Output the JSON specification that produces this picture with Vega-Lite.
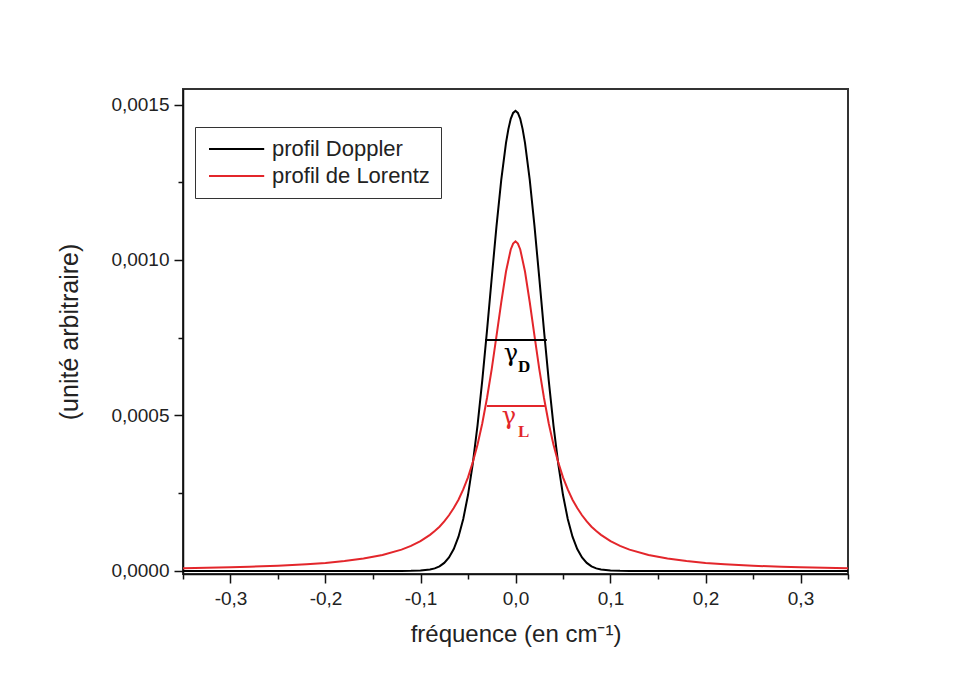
{
  "$schema": "https://vega.github.io/schema/vega-lite/v6.json",
  "width": 665,
  "height": 485,
  "autosize": {"type": "none"},
  "padding": {"left": 183, "top": 89, "right": 123, "bottom": 110},
  "background": "white",
  "config": {
    "view": {"stroke": "#333333", "strokeWidth": 2},
    "font": "Liberation Sans",
    "axis": {"labelFont": "Liberation Sans", "titleFont": "Liberation Sans", "labelColor": "#222222", "titleColor": "#222222", "titleFontWeight": "normal", "grid": false, "domainColor": "#111111", "tickColor": "#111111", "domainWidth": 1.5, "tickWidth": 1.5, "labelOverlap": false, "labelFlush": false, "labelBound": false},
    "legend": {"labelFont": "Liberation Sans"}
  },
  "datasets": {
    "curves": [
      {"x": -0.35, "y": 0, "s": "profil Doppler"},
      {"x": -0.2, "y": 0, "s": "profil Doppler"},
      {"x": -0.12, "y": 0, "s": "profil Doppler"},
      {"x": -0.11, "y": 0.0000002, "s": "profil Doppler"},
      {"x": -0.1, "y": 0.0000011, "s": "profil Doppler"},
      {"x": -0.09, "y": 0.0000043, "s": "profil Doppler"},
      {"x": -0.085, "y": 0.0000081, "s": "profil Doppler"},
      {"x": -0.08, "y": 0.0000146, "s": "profil Doppler"},
      {"x": -0.075, "y": 0.0000256, "s": "profil Doppler"},
      {"x": -0.07, "y": 0.0000432, "s": "profil Doppler"},
      {"x": -0.065, "y": 0.0000703, "s": "profil Doppler"},
      {"x": -0.06, "y": 0.000110, "s": "profil Doppler"},
      {"x": -0.055, "y": 0.000167, "s": "profil Doppler"},
      {"x": -0.05, "y": 0.000244, "s": "profil Doppler"},
      {"x": -0.045, "y": 0.000344, "s": "profil Doppler"},
      {"x": -0.04, "y": 0.000467, "s": "profil Doppler"},
      {"x": -0.035, "y": 0.000612, "s": "profil Doppler"},
      {"x": -0.03, "y": 0.000773, "s": "profil Doppler"},
      {"x": -0.025, "y": 0.000943, "s": "profil Doppler"},
      {"x": -0.02, "y": 0.001109, "s": "profil Doppler"},
      {"x": -0.015, "y": 0.001258, "s": "profil Doppler"},
      {"x": -0.01, "y": 0.001377, "s": "profil Doppler"},
      {"x": -0.0075, "y": 0.001421, "s": "profil Doppler"},
      {"x": -0.005, "y": 0.001454, "s": "profil Doppler"},
      {"x": -0.0025, "y": 0.001473, "s": "profil Doppler"},
      {"x": 0, "y": 0.00148, "s": "profil Doppler"},
      {"x": 0.0025, "y": 0.001473, "s": "profil Doppler"},
      {"x": 0.005, "y": 0.001454, "s": "profil Doppler"},
      {"x": 0.0075, "y": 0.001421, "s": "profil Doppler"},
      {"x": 0.01, "y": 0.001377, "s": "profil Doppler"},
      {"x": 0.015, "y": 0.001258, "s": "profil Doppler"},
      {"x": 0.02, "y": 0.001109, "s": "profil Doppler"},
      {"x": 0.025, "y": 0.000943, "s": "profil Doppler"},
      {"x": 0.03, "y": 0.000773, "s": "profil Doppler"},
      {"x": 0.035, "y": 0.000612, "s": "profil Doppler"},
      {"x": 0.04, "y": 0.000467, "s": "profil Doppler"},
      {"x": 0.045, "y": 0.000344, "s": "profil Doppler"},
      {"x": 0.05, "y": 0.000244, "s": "profil Doppler"},
      {"x": 0.055, "y": 0.000167, "s": "profil Doppler"},
      {"x": 0.06, "y": 0.000110, "s": "profil Doppler"},
      {"x": 0.065, "y": 0.0000703, "s": "profil Doppler"},
      {"x": 0.07, "y": 0.0000432, "s": "profil Doppler"},
      {"x": 0.075, "y": 0.0000256, "s": "profil Doppler"},
      {"x": 0.08, "y": 0.0000146, "s": "profil Doppler"},
      {"x": 0.085, "y": 0.0000081, "s": "profil Doppler"},
      {"x": 0.09, "y": 0.0000043, "s": "profil Doppler"},
      {"x": 0.1, "y": 0.0000011, "s": "profil Doppler"},
      {"x": 0.11, "y": 0.0000002, "s": "profil Doppler"},
      {"x": 0.12, "y": 0, "s": "profil Doppler"},
      {"x": 0.2, "y": 0, "s": "profil Doppler"},
      {"x": 0.35, "y": 0, "s": "profil Doppler"},
      {"x": -0.35, "y": 0.0000085, "s": "profil de Lorentz"},
      {"x": -0.325, "y": 0.0000099, "s": "profil de Lorentz"},
      {"x": -0.3, "y": 0.0000116, "s": "profil de Lorentz"},
      {"x": -0.28, "y": 0.0000132, "s": "profil de Lorentz"},
      {"x": -0.25, "y": 0.0000166, "s": "profil de Lorentz"},
      {"x": -0.22, "y": 0.0000213, "s": "profil de Lorentz"},
      {"x": -0.2, "y": 0.0000257, "s": "profil de Lorentz"},
      {"x": -0.18, "y": 0.0000315, "s": "profil de Lorentz"},
      {"x": -0.16, "y": 0.0000396, "s": "profil de Lorentz"},
      {"x": -0.14, "y": 0.0000511, "s": "profil de Lorentz"},
      {"x": -0.12, "y": 0.0000683, "s": "profil de Lorentz"},
      {"x": -0.11, "y": 0.0000803, "s": "profil de Lorentz"},
      {"x": -0.1, "y": 0.0000957, "s": "profil de Lorentz"},
      {"x": -0.09, "y": 0.000116, "s": "profil de Lorentz"},
      {"x": -0.085, "y": 0.000128, "s": "profil de Lorentz"},
      {"x": -0.08, "y": 0.000142, "s": "profil de Lorentz"},
      {"x": -0.075, "y": 0.000159, "s": "profil de Lorentz"},
      {"x": -0.07, "y": 0.000179, "s": "profil de Lorentz"},
      {"x": -0.065, "y": 0.000202, "s": "profil de Lorentz"},
      {"x": -0.06, "y": 0.000229, "s": "profil de Lorentz"},
      {"x": -0.055, "y": 0.000262, "s": "profil de Lorentz"},
      {"x": -0.05, "y": 0.000301, "s": "profil de Lorentz"},
      {"x": -0.045, "y": 0.000349, "s": "profil de Lorentz"},
      {"x": -0.04, "y": 0.000406, "s": "profil de Lorentz"},
      {"x": -0.035, "y": 0.000474, "s": "profil de Lorentz"},
      {"x": -0.03, "y": 0.000556, "s": "profil de Lorentz"},
      {"x": -0.025, "y": 0.000650, "s": "profil de Lorentz"},
      {"x": -0.02, "y": 0.000756, "s": "profil de Lorentz"},
      {"x": -0.015, "y": 0.000864, "s": "profil de Lorentz"},
      {"x": -0.01, "y": 0.000963, "s": "profil de Lorentz"},
      {"x": -0.005, "y": 0.001034, "s": "profil de Lorentz"},
      {"x": -0.0025, "y": 0.001053, "s": "profil de Lorentz"},
      {"x": 0, "y": 0.00106, "s": "profil de Lorentz"},
      {"x": 0.0025, "y": 0.001053, "s": "profil de Lorentz"},
      {"x": 0.005, "y": 0.001034, "s": "profil de Lorentz"},
      {"x": 0.01, "y": 0.000963, "s": "profil de Lorentz"},
      {"x": 0.015, "y": 0.000864, "s": "profil de Lorentz"},
      {"x": 0.02, "y": 0.000756, "s": "profil de Lorentz"},
      {"x": 0.025, "y": 0.000650, "s": "profil de Lorentz"},
      {"x": 0.03, "y": 0.000556, "s": "profil de Lorentz"},
      {"x": 0.035, "y": 0.000474, "s": "profil de Lorentz"},
      {"x": 0.04, "y": 0.000406, "s": "profil de Lorentz"},
      {"x": 0.045, "y": 0.000349, "s": "profil de Lorentz"},
      {"x": 0.05, "y": 0.000301, "s": "profil de Lorentz"},
      {"x": 0.055, "y": 0.000262, "s": "profil de Lorentz"},
      {"x": 0.06, "y": 0.000229, "s": "profil de Lorentz"},
      {"x": 0.065, "y": 0.000202, "s": "profil de Lorentz"},
      {"x": 0.07, "y": 0.000179, "s": "profil de Lorentz"},
      {"x": 0.075, "y": 0.000159, "s": "profil de Lorentz"},
      {"x": 0.08, "y": 0.000142, "s": "profil de Lorentz"},
      {"x": 0.085, "y": 0.000128, "s": "profil de Lorentz"},
      {"x": 0.09, "y": 0.000116, "s": "profil de Lorentz"},
      {"x": 0.1, "y": 0.0000957, "s": "profil de Lorentz"},
      {"x": 0.11, "y": 0.0000803, "s": "profil de Lorentz"},
      {"x": 0.12, "y": 0.0000683, "s": "profil de Lorentz"},
      {"x": 0.14, "y": 0.0000511, "s": "profil de Lorentz"},
      {"x": 0.16, "y": 0.0000396, "s": "profil de Lorentz"},
      {"x": 0.18, "y": 0.0000315, "s": "profil de Lorentz"},
      {"x": 0.2, "y": 0.0000257, "s": "profil de Lorentz"},
      {"x": 0.22, "y": 0.0000213, "s": "profil de Lorentz"},
      {"x": 0.25, "y": 0.0000166, "s": "profil de Lorentz"},
      {"x": 0.28, "y": 0.0000132, "s": "profil de Lorentz"},
      {"x": 0.3, "y": 0.0000116, "s": "profil de Lorentz"},
      {"x": 0.325, "y": 0.0000099, "s": "profil de Lorentz"},
      {"x": 0.35, "y": 0.0000085, "s": "profil de Lorentz"}
    ],
    "widths": [
      {"x": -0.032, "x2": 0.033, "y": 0.000743, "s": "profil Doppler"},
      {"x": -0.030, "x2": 0.031, "y": 0.00053, "s": "profil de Lorentz"}
    ],
    "gammas": [
      {"x": -0.0047, "y": 0.000675, "t": "γ", "s": "profil Doppler"},
      {"x": -0.0068, "y": 0.000472, "t": "γ", "s": "profil de Lorentz"}
    ],
    "subs": [
      {"x": 0.0026, "y": 0.00064, "t": "D", "s": "profil Doppler"},
      {"x": 0.0026, "y": 0.000431, "t": "L", "s": "profil de Lorentz"}
    ]
  },
  "layer": [
    {
      "data": {"name": "curves"},
      "mark": {"type": "line", "strokeWidth": 2, "clip": true},
      "encoding": {
        "x": {
          "field": "x", "type": "quantitative",
          "scale": {"domain": [-0.35, 0.35], "nice": false, "zero": false},
          "axis": {
            "title": "fréquence (en cm⁻¹)",
            "values": [-0.35, -0.3, -0.25, -0.2, -0.15, -0.1, -0.05, 0, 0.05, 0.1, 0.15, 0.2, 0.25, 0.3, 0.35],
            "labelExpr": "abs(datum.value*10 - round(datum.value*10)) < 0.01 ? replace(replace(format(datum.value, '.1f'), '.', ','), '−', '-') : ''",
            "tickSize": {"condition": {"test": "abs(datum.value*10 - round(datum.value*10)) < 0.01", "value": 9}, "value": 5},
            "labelFontSize": 19,
            "labelPadding": 6,
            "titleFontSize": 24,
            "titlePadding": 14
          }
        },
        "y": {
          "field": "y", "type": "quantitative",
          "scale": {"domain": [-0.00001, 0.00155], "nice": false, "zero": false},
          "axis": {
            "title": "(unité arbitraire)",
            "values": [0, 0.00025, 0.0005, 0.00075, 0.001, 0.00125, 0.0015],
            "labelExpr": "abs(datum.value*2000 - round(datum.value*2000)) < 0.01 ? replace(format(datum.value, '.4f'), '.', ',') : ''",
            "tickSize": {"condition": {"test": "abs(datum.value*2000 - round(datum.value*2000)) < 0.01", "value": 9}, "value": 5},
            "labelFontSize": 19,
            "labelPadding": 5,
            "titleFontSize": 25,
            "titlePadding": 28
          }
        },
        "color": {
          "field": "s", "type": "nominal",
          "scale": {"domain": ["profil Doppler", "profil de Lorentz"], "range": ["#000000", "#e3262b"]},
          "legend": {
            "title": null,
            "orient": "none",
            "legendX": 12,
            "legendY": 38,
            "padding": 11,
            "rowPadding": 5,
            "strokeColor": "#333333",
            "fillColor": "white",
            "labelFontSize": 22,
            "labelColor": "#222222",
            "symbolType": "M-1,0H5.9",
            "symbolSize": 256,
            "symbolStrokeWidth": 2,
            "labelOffset": 44
          }
        }
      }
    },
    {
      "data": {"name": "widths"},
      "mark": {"type": "rule", "strokeWidth": 2},
      "encoding": {
        "x": {"field": "x", "type": "quantitative"},
        "x2": {"field": "x2"},
        "y": {"field": "y", "type": "quantitative"},
        "color": {"field": "s", "type": "nominal", "legend": null}
      }
    },
    {
      "data": {"name": "gammas"},
      "mark": {"type": "text", "font": "DejaVu Serif", "fontSize": 24, "align": "center", "baseline": "alphabetic"},
      "encoding": {
        "x": {"field": "x", "type": "quantitative"},
        "y": {"field": "y", "type": "quantitative"},
        "text": {"field": "t"},
        "color": {"field": "s", "type": "nominal", "legend": null}
      }
    },
    {
      "data": {"name": "subs"},
      "mark": {"type": "text", "font": "Liberation Serif", "fontSize": 17, "fontWeight": "bold", "align": "left", "baseline": "alphabetic"},
      "encoding": {
        "x": {"field": "x", "type": "quantitative"},
        "y": {"field": "y", "type": "quantitative"},
        "text": {"field": "t"},
        "color": {"field": "s", "type": "nominal", "legend": null}
      }
    }
  ]
}
